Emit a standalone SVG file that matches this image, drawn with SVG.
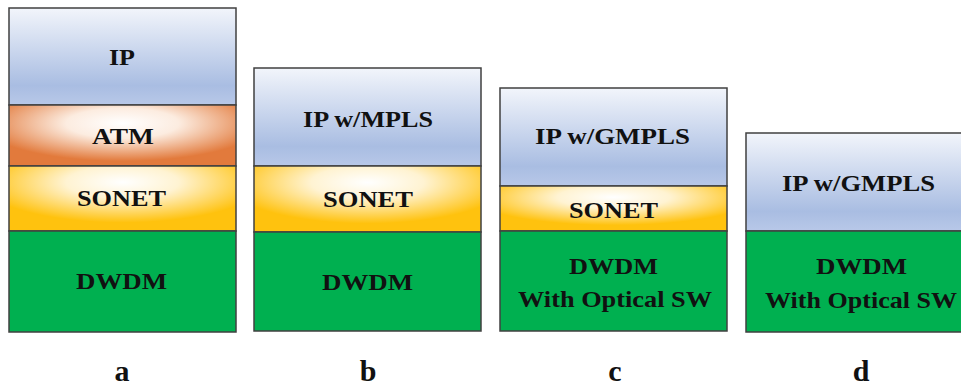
<svg xmlns="http://www.w3.org/2000/svg" width="961" height="389" viewBox="0 0 961 389">
<defs>
<linearGradient id="gIP" x1="0" y1="0" x2="0" y2="1">
<stop offset="0" stop-color="#f2f5fb"/>
<stop offset="0.8" stop-color="#a9bde2"/>
<stop offset="1" stop-color="#b8c8e8"/>
</linearGradient>
<radialGradient id="gATM" cx="0.5" cy="0.3" r="0.62">
<stop offset="0" stop-color="#ffffff"/>
<stop offset="0.4" stop-color="#fcece0"/>
<stop offset="1" stop-color="#e27a3c"/>
</radialGradient>
<radialGradient id="gSON" cx="0.5" cy="0.25" r="0.62">
<stop offset="0" stop-color="#ffffff"/>
<stop offset="0.4" stop-color="#fff3d2"/>
<stop offset="1" stop-color="#ffc20e"/>
</radialGradient>
<style>
.b{stroke:#404040;stroke-width:1.5}
.ip{fill:url(#gIP)}
.atm{fill:url(#gATM)}
.son{fill:url(#gSON)}
.dw{fill:#00b050}
.t{font-family:"Liberation Serif","Times New Roman",serif;font-weight:bold;font-size:23px;fill:#111;text-anchor:middle}
.l{font-family:"Liberation Serif","Times New Roman",serif;font-weight:bold;font-size:30px;fill:#111;text-anchor:middle}
</style>
</defs>
<rect width="961" height="389" fill="#ffffff"/>
<g id="stack-a">
<rect class="b ip" x="9" y="8" width="227" height="97"/>
<rect class="b atm" x="9" y="105" width="227" height="61"/>
<rect class="b son" x="9" y="166" width="227" height="65"/>
<rect class="b dw" x="9" y="231" width="227" height="101"/>
<text class="t" x="122" y="65" textLength="26" lengthAdjust="spacingAndGlyphs">IP</text>
<text class="t" x="123" y="144" textLength="62" lengthAdjust="spacingAndGlyphs">ATM</text>
<text class="t" x="121.5" y="206" textLength="89" lengthAdjust="spacingAndGlyphs">SONET</text>
<text class="t" x="121.5" y="289" textLength="91" lengthAdjust="spacingAndGlyphs">DWDM</text>
</g>
<g id="stack-b">
<rect class="b ip" x="254" y="68" width="227" height="98"/>
<rect class="b son" x="254" y="166" width="227" height="66"/>
<rect class="b dw" x="254" y="232" width="227" height="99"/>
<text class="t" x="368" y="127" textLength="130" lengthAdjust="spacingAndGlyphs">IP w/MPLS</text>
<text class="t" x="368" y="207" textLength="90" lengthAdjust="spacingAndGlyphs">SONET</text>
<text class="t" x="367.5" y="290" textLength="91" lengthAdjust="spacingAndGlyphs">DWDM</text>
</g>
<g id="stack-c">
<rect class="b ip" x="500" y="88" width="227" height="98"/>
<rect class="b son" x="500" y="186" width="227" height="45"/>
<rect class="b dw" x="500" y="231" width="227" height="100"/>
<text class="t" x="612.5" y="144" textLength="155" lengthAdjust="spacingAndGlyphs">IP w/GMPLS</text>
<text class="t" x="613.5" y="218" textLength="89" lengthAdjust="spacingAndGlyphs">SONET</text>
<text class="t" x="613.5" y="274" textLength="89" lengthAdjust="spacingAndGlyphs">DWDM</text>
<text class="t" x="615" y="307" textLength="194" lengthAdjust="spacingAndGlyphs">With Optical SW</text>
</g>
<g id="stack-d">
<rect class="b ip" x="746" y="133" width="230" height="98"/>
<rect class="b dw" x="746" y="231" width="230" height="101"/>
<text class="t" x="858.5" y="191" textLength="153" lengthAdjust="spacingAndGlyphs">IP w/GMPLS</text>
<text class="t" x="861.5" y="274" textLength="91" lengthAdjust="spacingAndGlyphs">DWDM</text>
<text class="t" x="861" y="308" textLength="192" lengthAdjust="spacingAndGlyphs">With Optical SW</text>
</g>
<g id="labels">
<text class="l" x="122" y="381">a</text>
<text class="l" x="368" y="381">b</text>
<text class="l" x="615" y="381">c</text>
<text class="l" x="861" y="381">d</text>
</g>
<g id="connectors"/>
</svg>
